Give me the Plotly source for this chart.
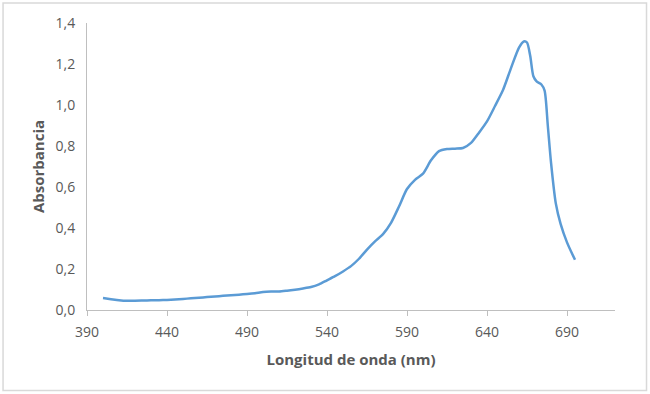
import plotly.graph_objects as go

wavelength = [400, 405, 410, 415, 420, 425, 430, 435, 440, 445, 450, 455, 460, 465, 470,
              475, 480, 485, 490, 495, 500, 505, 510, 515, 520, 525, 530, 535, 540, 545,
              550, 555, 560, 565, 570, 575, 580, 585, 590, 595, 600, 605, 610, 615, 620,
              625, 630, 635, 640, 645, 650, 655, 660, 663, 665, 667, 669, 671, 674, 676,
              678, 680, 683, 686, 690, 695]
absorbance = [0.058, 0.053, 0.048, 0.045, 0.045, 0.046, 0.047, 0.048, 0.049, 0.051, 0.054,
              0.057, 0.060, 0.063, 0.066, 0.069, 0.072, 0.075, 0.078, 0.082, 0.088, 0.090,
              0.090, 0.094, 0.099, 0.105, 0.112, 0.125, 0.145, 0.165, 0.188, 0.214, 0.250,
              0.295, 0.335, 0.370, 0.425, 0.505, 0.590, 0.635, 0.665, 0.730, 0.775, 0.785,
              0.787, 0.790, 0.815, 0.865, 0.920, 0.995, 1.073, 1.180, 1.280, 1.310, 1.305,
              1.240, 1.140, 1.115, 1.100, 1.070, 0.900, 0.720, 0.520, 0.420, 0.330, 0.245]

x_ticks = [390, 440, 490, 540, 590, 640, 690]
y_ticks = [0.0, 0.2, 0.4, 0.6, 0.8, 1.0, 1.2, 1.4]

fig = go.Figure()
fig.add_trace(go.Scatter(x=wavelength, y=absorbance, mode="lines",
                         line=dict(color="#5b9bd5", width=2.5, shape="spline", smoothing=0.7),
                         showlegend=False, hoverinfo="skip"))

tick_font = dict(family="Open Sans, Liberation Sans, sans-serif", size=14, color="#595959")
title_font = dict(family="Open Sans, Liberation Sans, sans-serif", size=15, color="#595959")

fig.update_layout(
    width=650, height=394,
    margin=dict(l=87, r=35, t=23, b=84),
    paper_bgcolor="white", plot_bgcolor="white",
    separators=",.",
    xaxis=dict(range=[390, 720], tickvals=x_ticks, showgrid=False, zeroline=False,
               showline=True, linecolor="#bfbfbf", linewidth=1,
               ticks="outside", ticklen=5, tickcolor="#bfbfbf",
               tickfont=tick_font, ticklabelstandoff=4,
               title=dict(text="<b>Longitud de onda (nm)</b>", font=title_font, standoff=14)),
    yaxis=dict(range=[0, 1.4], tickvals=y_ticks, tickformat=".1f", showgrid=False,
               zeroline=False, showline=True, linecolor="#bfbfbf", linewidth=1,
               ticks="", tickfont=tick_font, ticklabelstandoff=8,
               title=dict(text="<b>Absorbancia</b>", font=title_font, standoff=7)),
    shapes=[dict(type="rect", xref="paper", yref="paper",
                 x0=-0.159, x1=1.0597, y0=-0.2805, y1=1.0697,
                 line=dict(color="#d9d9d9", width=1.5), fillcolor="rgba(0,0,0,0)", layer="below")],
)

fig.write_html("out.html", config={"displayModeBar": False},
               post_script="document.body.style.margin='0';")
